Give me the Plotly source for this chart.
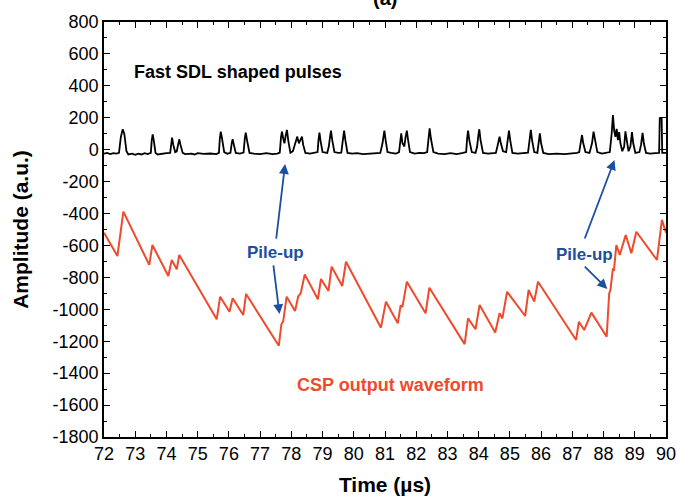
import plotly.graph_objects as go

# ---- Fast SDL shaped pulses (black) : vertices ----
sdl_t = [72.00, 72.10, 72.20, 72.30, 72.40, 72.48, 72.54, 72.60, 72.65, 72.72, 72.78, 72.90,
         73.00, 73.10, 73.20, 73.30, 73.40, 73.50, 73.53, 73.56, 73.60, 73.65, 73.72, 73.85,
         74.00, 74.12, 74.15, 74.18, 74.22, 74.28, 74.33, 74.38, 74.41, 74.45, 74.52, 74.60,
         74.80, 74.90, 75.00, 75.20, 75.40, 75.60, 75.68, 75.71, 75.74, 75.78, 75.85, 75.95,
         76.05, 76.09, 76.12, 76.16, 76.22, 76.35, 76.47, 76.51, 76.54, 76.58, 76.66, 76.80,
         77.00, 77.20, 77.40, 77.55, 77.63, 77.67, 77.70, 77.74, 77.78, 77.82, 77.86, 77.90,
         77.97, 78.05, 78.14, 78.19, 78.24, 78.30, 78.34, 78.38, 78.45, 78.60, 78.75, 78.84,
         78.87, 78.90, 78.94, 79.00, 79.15, 79.20, 79.24, 79.27, 79.31, 79.38, 79.50, 79.60,
         79.65, 79.69, 79.73, 79.80, 79.95, 80.10, 80.30, 80.50, 80.70, 80.85, 80.92, 80.98,
         81.02, 81.08, 81.20, 81.35, 81.45, 81.49, 81.52, 81.56, 81.62, 81.66, 81.70, 81.74,
         81.80, 81.95, 82.10, 82.25, 82.35, 82.40, 82.43, 82.47, 82.55, 82.70, 82.90, 83.10,
         83.30, 83.50, 83.60, 83.63, 83.66, 83.70, 83.78, 83.90, 83.95, 83.99, 84.02, 84.06,
         84.14, 84.30, 84.45, 84.55, 84.60, 84.64, 84.67, 84.71, 84.78, 84.88, 84.93, 84.97,
         85.01, 85.08, 85.25, 85.45, 85.58, 85.63, 85.67, 85.71, 85.78, 85.88, 85.93, 85.96,
         86.00, 86.07, 86.25, 86.50, 86.75, 87.00, 87.15, 87.22, 87.27, 87.31, 87.35, 87.42,
         87.55, 87.63, 87.68, 87.72, 87.80, 87.95, 88.10, 88.20, 88.26, 88.30, 88.34, 88.38,
         88.42, 88.46, 88.50, 88.54, 88.60, 88.66, 88.70, 88.74, 88.80, 88.86, 88.91, 88.95,
         89.02, 89.15, 89.20, 89.25, 89.29, 89.36, 89.50, 89.65, 89.78, 89.80, 89.86, 89.88,
         90.00]
sdl_v = [-25, -20, -28, -22, -25, -20, 80, 128, 100, -10, -30, -25,
         -32, -25, -30, -22, -28, -20, 60, 96, 50, -20, -30, -25,
         -22, -20, 50, 75, 30, -15, -10, 40, 65, 30, -20, -28,
         -25, -30, -22, -26, -24, -28, -20, 70, 113, 70, -15, -25,
         -20, 40, 65, 30, -20, -25, -18, 70, 107, 60, -20, -25,
         -28, -22, -28, -25, -18, 80, 113, 70, 40, 90, 124, 60,
         -20, -10, 40, 82, 40, 60, 82, 30, -20, -25, -20, -15,
         60, 107, 50, -15, -20, 20, 80, 119, 60, -15, -20, -18,
         60, 119, 60, -20, -25, -22, -28, -25, -22, -20, 40, 119,
         60, -15, -20, -25, -15, 60, 102, 40, 20, 80, 119, 60,
         -15, -25, -20, -22, -15, 80, 134, 70, -15, -25, -28, -22,
         -28, -20, -15, 70, 119, 60, -15, -20, 20, 90, 128, 60,
         -20, -25, -22, -20, 20, 60, 82, 40, -10, -15, 60, 119,
         60, -20, -25, -22, -18, 60, 124, 60, -15, -20, 50, 102,
         40, -20, -28, -25, -28, -24, -20, -15, 50, 92, 40, -15,
         -20, 40, 113, 60, -15, -25, -20, -15, 100, 217, 120, 80,
         130, 60, 110, 40, -10, 20, 115, 50, -10, 20, 110, 40,
         -20, -15, 30, 105, 40, -20, -25, -22, -20, 197, 197, -20,
         -20]

# ---- CSP output waveform (red) : vertices ----
csp_t = [72.00, 72.43, 72.62, 73.45, 73.55, 74.06, 74.17, 74.33, 74.41, 75.61, 75.72, 76.02,
         76.12, 76.46, 76.55, 77.60, 77.68, 77.74, 77.85, 78.12, 78.22, 78.30, 78.43, 78.85,
         78.95, 79.19, 79.29, 79.63, 79.75, 80.87, 81.03, 81.41, 81.50, 81.56, 81.70, 82.30,
         82.42, 83.55, 83.66, 83.90, 84.03, 84.53, 84.67, 84.76, 84.91, 85.49, 85.60, 85.78,
         85.90, 87.12, 87.21, 87.38, 87.61, 88.10, 88.18, 88.22, 88.30, 88.33, 88.41, 88.52,
         88.71, 88.89, 89.05, 89.71, 89.87, 90.00]
csp_v = [-520, -666, -388, -722, -597, -791, -691, -750, -660, -1063, -921, -1015,
         -931, -1036, -904, -1228, -1095, -1075, -921, -1011, -920, -900, -781, -937,
         -810, -885, -733, -854, -702, -1115, -952, -1088, -975, -985, -827, -1025,
         -865, -1218, -1057, -1125, -973, -1146, -1025, -1057, -890, -1042, -879, -952,
         -827, -1192, -1078, -1130, -1021, -1172, -900, -880, -743, -760, -597, -660,
         -534, -649, -514, -691, -440, -520]

x_ticks = list(range(72, 91))
y_ticks = list(range(-1800, 801, 200))

BLUE = "#1d4f9e"
RED = "#ee4a2c"
FONT = "Liberation Sans, Arial, sans-serif"

fig = go.Figure()
fig.add_trace(go.Scatter(x=sdl_t, y=sdl_v, mode="lines",
                         line=dict(color="black", width=1.8), showlegend=False))
fig.add_trace(go.Scatter(x=csp_t, y=csp_v, mode="lines",
                         line=dict(color=RED, width=2), showlegend=False))

annotations = [
    dict(x=72.9, y=487, xref="x", yref="y", text="<b>Fast SDL shaped pulses</b>",
         showarrow=False, xanchor="left", yanchor="middle",
         font=dict(size=18, color="black", family=FONT)),
    dict(x=77.48, y=-647, xref="x", yref="y", text="<b>Pile-up</b>",
         showarrow=False, font=dict(size=17, color=BLUE, family=FONT)),
    dict(x=87.38, y=-655, xref="x", yref="y", text="<b>Pile-up</b>",
         showarrow=False, font=dict(size=17, color=BLUE, family=FONT)),
    dict(x=81.17, y=-1474, xref="x", yref="y", text="<b>CSP output waveform</b>",
         showarrow=False, font=dict(size=18, color=RED, family=FONT)),
    dict(x=0.5, y=1.09, xref="paper", yref="paper", text="<b>(a)</b>",
         showarrow=False, font=dict(size=20, color="black", family=FONT)),
]
arrows = [
    ((77.51, -566), (77.80, -90)),
    ((77.42, -716), (77.62, -1030)),
    ((87.38, -566), (88.35, -65)),
    ((87.35, -723), (88.12, -873)),
]
for (tx, ty), (hx, hy) in arrows:
    annotations.append(dict(x=hx, y=hy, ax=tx, ay=ty, xref="x", yref="y",
                            axref="x", ayref="y", text="", showarrow=True,
                            arrowhead=2, arrowsize=1.1, arrowwidth=1.8,
                            arrowcolor=BLUE))

axis_common = dict(showline=True, linecolor="black", linewidth=1.5, mirror="allticks",
                   ticks="inside", ticklen=6, tickwidth=1.2, tickcolor="black",
                   showgrid=False, zeroline=False, automargin=False,
                   tickfont=dict(size=18, color="black", family=FONT))

fig.update_xaxes(range=[72, 90], tickvals=x_ticks, ticktext=[str(v) for v in x_ticks],
                 minor=dict(ticks="inside", dtick=0.5, ticklen=3, tickwidth=1.2,
                            tickcolor="black", showgrid=False),
                 title=dict(text="<b>Time (\u00b5s)</b>", font=dict(size=21, family=FONT, color="black"),
                            standoff=14),
                 **axis_common)
fig.update_yaxes(range=[-1800, 800], tickvals=y_ticks, ticktext=[str(v) for v in y_ticks],
                 minor=dict(ticks="inside", dtick=100, ticklen=3, tickwidth=1.2,
                            tickcolor="black", showgrid=False),
                 title=dict(text="<b>Amplitude (a.u.)</b>", font=dict(size=21, family=FONT, color="black"),
                            standoff=18),
                 **axis_common)

fig.update_layout(width=677, height=498, margin=dict(l=104, r=11, t=22, b=61),
                  plot_bgcolor="white", paper_bgcolor="white",
                  annotations=annotations, font=dict(family=FONT))

fig.write_html("out.html")
